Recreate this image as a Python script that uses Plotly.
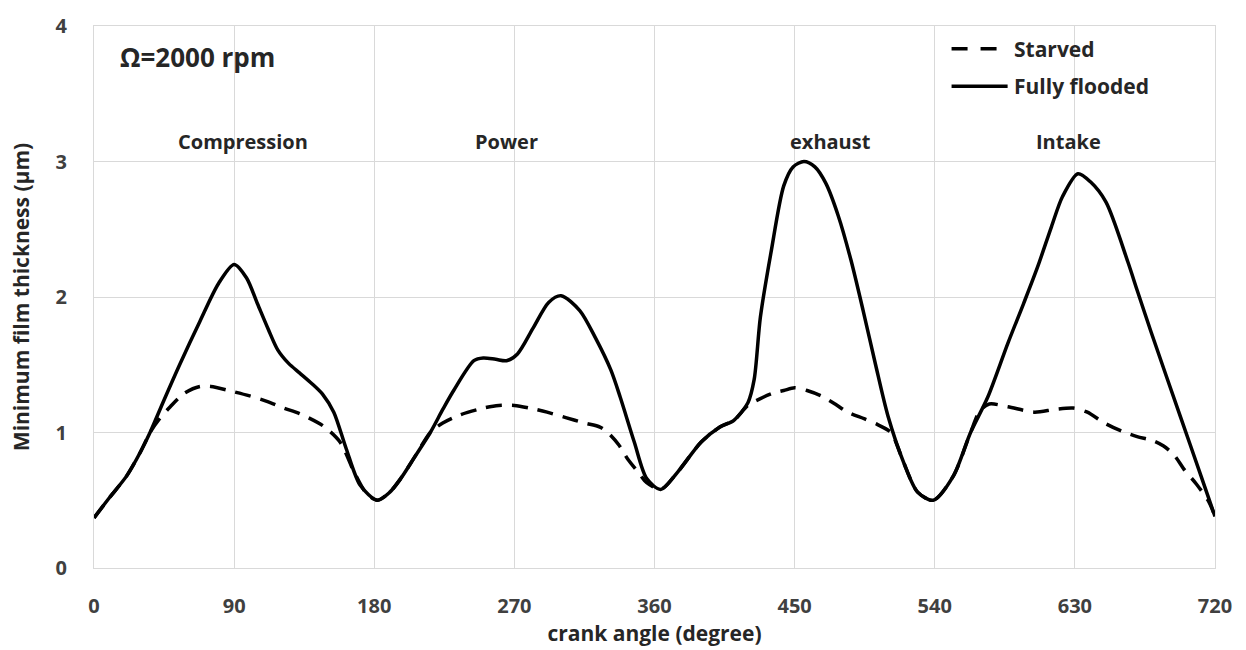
import plotly.graph_objects as go

# ---- data ----
flooded_angle = [0, 10, 21, 30, 36, 45, 55, 68, 80, 90, 98, 105, 112, 118, 125, 132, 140, 147, 154,
                 162, 171, 182, 190, 197, 206, 216, 224, 231, 244, 250, 258, 265, 272, 282, 292, 300,
                 312, 322, 332, 338, 347, 355, 364, 375, 390, 402, 411, 420, 424, 428, 435, 443, 449,
                 456, 463, 470, 478, 486, 494, 502, 510, 520, 529, 539, 552, 563, 574, 587, 597, 606,
                 615, 622, 632, 640, 650, 664, 670, 679, 698, 711, 720]
flooded_h = [0.37, 0.52, 0.68, 0.86, 1.00, 1.24, 1.50, 1.82, 2.10, 2.24, 2.14, 1.95, 1.76, 1.61, 1.51,
             1.44, 1.36, 1.28, 1.15, 0.88, 0.61, 0.50, 0.56, 0.66, 0.82, 1.00, 1.17, 1.31, 1.53, 1.55,
             1.54, 1.53, 1.58, 1.77, 1.96, 2.01, 1.90, 1.70, 1.46, 1.26, 0.93, 0.66, 0.58, 0.71, 0.93,
             1.04, 1.09, 1.22, 1.39, 1.85, 2.34, 2.82, 2.96, 3.00, 2.96, 2.84, 2.60, 2.28, 1.90, 1.50,
             1.12, 0.78, 0.56, 0.50, 0.68, 1.00, 1.26, 1.66, 1.95, 2.22, 2.52, 2.74, 2.91, 2.85, 2.70,
             2.26, 2.05, 1.74, 1.11, 0.68, 0.38]

starved_angle = [0, 10, 21, 30, 36, 42, 49, 58, 68, 75, 90, 100, 111, 122, 132, 147, 158, 167, 175,
                 182, 190, 197, 206, 216, 224, 235, 250, 260, 270, 280, 291, 303, 315, 325, 330, 337,
                 343, 350, 355, 364, 375, 390, 402, 411, 420, 428, 436, 443, 450, 458, 467, 476, 484,
                 495, 503, 512, 516, 520, 529, 539, 552, 563, 569, 575, 587, 604, 617, 629, 638, 649,
                 660, 670, 680, 687, 694, 700, 708, 716, 720]
starved_h = [0.37, 0.52, 0.68, 0.86, 1.00, 1.10, 1.19, 1.29, 1.34, 1.34, 1.30, 1.27, 1.23, 1.18, 1.14,
             1.05, 0.93, 0.71, 0.55, 0.50, 0.56, 0.66, 0.82, 1.00, 1.07, 1.13, 1.18, 1.20, 1.20, 1.18,
             1.15, 1.11, 1.07, 1.04, 1.00, 0.91, 0.80, 0.70, 0.63, 0.58, 0.71, 0.93, 1.04, 1.09, 1.20,
             1.25, 1.29, 1.31, 1.33, 1.31, 1.27, 1.21, 1.15, 1.10, 1.06, 1.00, 0.90, 0.78, 0.56, 0.50,
             0.68, 1.00, 1.16, 1.21, 1.19, 1.15, 1.17, 1.18, 1.15, 1.07, 1.01, 0.97, 0.94, 0.90, 0.83,
             0.73, 0.62, 0.49, 0.38]

x_ticks = [0, 90, 180, 270, 360, 450, 540, 630, 720]
y_ticks = [0, 1, 2, 3, 4]

stroke_labels = ["Compression", "Power", "exhaust", "Intake"]
stroke_x = [96, 265, 473, 626]
stroke_y = [3.15, 3.15, 3.15, 3.15]

FONT = "Open Sans"
TXT = "#404040"
DARK = "#262626"
GRID = "#d9d9d9"

fig = go.Figure()
fig.add_trace(go.Scatter(x=flooded_angle, y=flooded_h, mode="lines", name="Fully flooded",
                         line=dict(color="black", width=3.5, shape="spline", smoothing=0.8),
                         showlegend=False))
fig.add_trace(go.Scatter(x=starved_angle, y=starved_h, mode="lines", name="Starved",
                         line=dict(color="black", width=3.5, dash="16px,10px", shape="spline", smoothing=0.8),
                         showlegend=False))

for lab, xx, yy in zip(stroke_labels, stroke_x, stroke_y):
    fig.add_annotation(x=xx, y=yy, text=lab, showarrow=False, xanchor="center", yanchor="middle",
                       font=dict(family=FONT, size=20, color=DARK, weight="bold"))

fig.add_annotation(x=0.021, y=0.943, xref="paper", yref="paper", text="Ω=2000 rpm", showarrow=False,
                   xanchor="left", yanchor="middle",
                   font=dict(family=FONT, size=26, color=DARK, weight="bold"))

# manual legend
leg_y = [0.958, 0.889]
leg_names = ["Starved", "Fully flooded"]
leg_dash = ["16px,13px", "solid"]
for yy, nm, ds in zip(leg_y, leg_names, leg_dash):
    fig.add_shape(type="line", xref="paper", yref="paper", x0=0.765, x1=0.815, y0=yy, y1=yy,
                  line=dict(color="black", width=3.5, dash=ds))
    fig.add_annotation(x=0.819, y=yy, xref="paper", yref="paper", text=nm, showarrow=False,
                       xanchor="left", yanchor="middle",
                       font=dict(family=FONT, size=21, color=DARK, weight="bold"))

fig.update_layout(
    width=1246, height=650,
    margin=dict(l=94, r=31, t=22, b=80),
    paper_bgcolor="white", plot_bgcolor="white",
    font=dict(family=FONT, color=TXT),
)
fig.update_xaxes(range=[0, 720], tickvals=x_ticks, ticktext=[str(v) for v in x_ticks],
                 showgrid=True, gridcolor=GRID, gridwidth=1, zeroline=False,
                 showline=True, linecolor=GRID, linewidth=1, mirror=True,
                 ticks="", ticklabelstandoff=20,
                 tickfont=dict(family=FONT, size=20, color=TXT, weight="bold"),
                 title=dict(text="crank angle (degree)", standoff=4,
                            font=dict(family=FONT, size=21, color=DARK, weight="bold")))
fig.update_yaxes(range=[0, 4], tickvals=y_ticks, ticktext=[str(v) for v in y_ticks],
                 showgrid=True, gridcolor=GRID, gridwidth=1, zeroline=False,
                 showline=True, linecolor=GRID, linewidth=1, mirror=True,
                 ticks="", ticklabelstandoff=22,
                 tickfont=dict(family=FONT, size=20, color=TXT, weight="bold"),
                 title=dict(text="Minimum film thickness (μm)", standoff=20,
                            font=dict(family=FONT, size=21, color=DARK, weight="bold")))

fig.write_html("out.html")
